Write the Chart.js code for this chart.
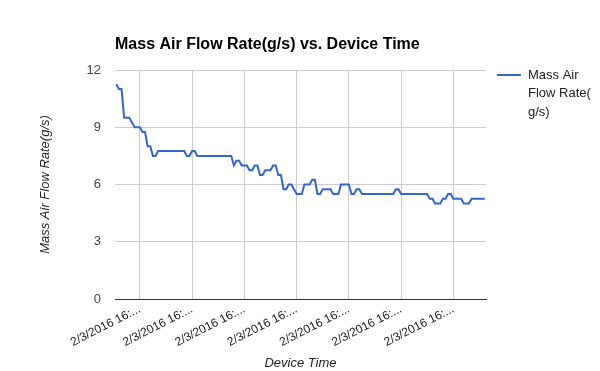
<!DOCTYPE html>
<html>
<head>
<meta charset="utf-8">
<script src="https://cdn.jsdelivr.net/npm/chart.js@4/dist/chart.umd.min.js"></script>
<style>
  html, body { margin: 0; padding: 0; background: #fff; }
  #wrap { width: 600px; height: 371px; }
</style>
</head>
<body>
<div id="wrap"><canvas id="c" width="600" height="371"></canvas></div>
<script>
const chartTitle = 'Mass Air Flow Rate(g/s) vs. Device Time';
const seriesName = 'Mass Air Flow Rate(g/s)';
const legendLines = ['Mass Air', 'Flow Rate(', 'g/s)'];
const xTitle = 'Device Time';
const yTitle = 'Mass Air Flow Rate(g/s)';
const tickLabel = '2/3/2016 16:...';
const yTicks = [0, 3, 6, 9, 12];
const labelEvery = 20;
const labelStart = 9;

const values = [
  11.25, 11, 11, 9.5, 9.5, 9.5, 9.25, 9, 9, 9, 8.75, 8.75, 8, 8, 7.5, 7.5,
  7.75, 7.75, 7.75, 7.75, 7.75, 7.75, 7.75, 7.75, 7.75, 7.75, 7.75,
  7.5, 7.5, 7.75, 7.75,
  7.5, 7.5, 7.5, 7.5, 7.5, 7.5, 7.5, 7.5, 7.5, 7.5, 7.5, 7.5, 7.5, 7.5,
  7, 7.25, 7.25, 7, 7, 7, 6.75, 6.75, 7, 7, 6.5, 6.5, 6.75, 6.75, 6.75, 7, 7, 6.5, 6.5,
  5.75, 5.75, 6, 6, 5.75, 5.5, 5.5, 5.5, 6, 6, 6, 6.25, 6.25, 5.5, 5.5,
  5.75, 5.75, 5.75, 5.75, 5.5, 5.5, 5.5, 6, 6, 6, 6, 5.5, 5.5, 5.75, 5.75,
  5.5, 5.5, 5.5, 5.5, 5.5, 5.5, 5.5, 5.5, 5.5, 5.5, 5.5, 5.5, 5.5,
  5.75, 5.75,
  5.5, 5.5, 5.5, 5.5, 5.5, 5.5, 5.5, 5.5, 5.5, 5.5, 5.5,
  5.25, 5.25, 5, 5, 5, 5.25, 5.25, 5.5, 5.5, 5.25, 5.25, 5.25, 5.25, 5, 5, 5,
  5.25, 5.25, 5.25, 5.25, 5.25, 5.25
];
const categories = values.map(() => tickLabel);

const FONT = 'Arial, "Liberation Sans", sans-serif';
const LINE_COLOR = '#3366cc';
const isLabelIdx = i => i >= labelStart && (i - labelStart) % labelEvery === 0;

const overlay = {
  id: 'overlay',
  afterDraw(chart) {
    const ctx = chart.ctx;
    const a = chart.chartArea;
    ctx.save();
    ctx.fillStyle = '#000';
    ctx.font = 'bold 16px ' + FONT;
    ctx.textAlign = 'left';
    ctx.textBaseline = 'middle';
    ctx.fillText(chartTitle, a.left, 45);
    ctx.font = 'italic 13px ' + FONT;
    ctx.fillStyle = '#222';
    ctx.textAlign = 'center';
    ctx.fillText(xTitle, (a.left + a.right) / 2, 363);
    ctx.save();
    ctx.translate(45, (a.top + a.bottom) / 2);
    ctx.rotate(-Math.PI / 2);
    ctx.fillText(yTitle, 0, 0);
    ctx.restore();
    ctx.strokeStyle = LINE_COLOR;
    ctx.lineWidth = 2;
    ctx.beginPath();
    ctx.moveTo(497, 75);
    ctx.lineTo(521, 75);
    ctx.stroke();
    ctx.font = '13px ' + FONT;
    ctx.fillStyle = '#222';
    ctx.textAlign = 'left';
    legendLines.forEach((t, i) => ctx.fillText(t, 528, 75 + i * 18.5));
    ctx.restore();
  }
};

new Chart(document.getElementById('c'), {
  type: 'line',
  data: {
    labels: categories,
    datasets: [{
      label: seriesName,
      data: values,
      borderColor: LINE_COLOR,
      backgroundColor: LINE_COLOR,
      borderWidth: 2,
      pointRadius: 0,
      pointHoverRadius: 0,
      tension: 0,
      fill: false
    }]
  },
  options: {
    responsive: false,
    animation: false,
    events: [],
    layout: { padding: { left: 0, top: 70, right: 114, bottom: 0 } },
    plugins: {
      legend: { display: false },
      title: { display: false },
      tooltip: { enabled: false }
    },
    scales: {
      x: {
        type: 'category',
        offset: true,
        grid: {
          offset: false,
          drawTicks: false,
          color: c => (c.index !== undefined && isLabelIdx(c.index)) ? '#cccccc' : 'rgba(0,0,0,0)',
          lineWidth: 1
        },
        border: { display: true, color: '#333333', width: 1 },
        ticks: {
          autoSkip: false,
          minRotation: 27,
          maxRotation: 27,
          padding: 3,
          color: '#222',
          font: { family: FONT, size: 12 },
          callback: (v, i) => isLabelIdx(i) ? categories[i] : ''
        },
        afterFit: s => { s.height = 72; }
      },
      y: {
        min: 0,
        max: 12,
        afterBuildTicks: s => { s.ticks = yTicks.map(v => ({ value: v })); },
        grid: {
          drawTicks: false,
          color: c => c.tick && c.tick.value === 0 ? 'rgba(0,0,0,0)' : '#cccccc',
          lineWidth: 1
        },
        border: { display: false },
        ticks: {
          padding: 14,
          color: '#444',
          font: { family: FONT, size: 13 }
        },
        afterFit: s => { s.width = 115; }
      }
    }
  },
  plugins: [overlay]
});
</script>
</body>
</html>
